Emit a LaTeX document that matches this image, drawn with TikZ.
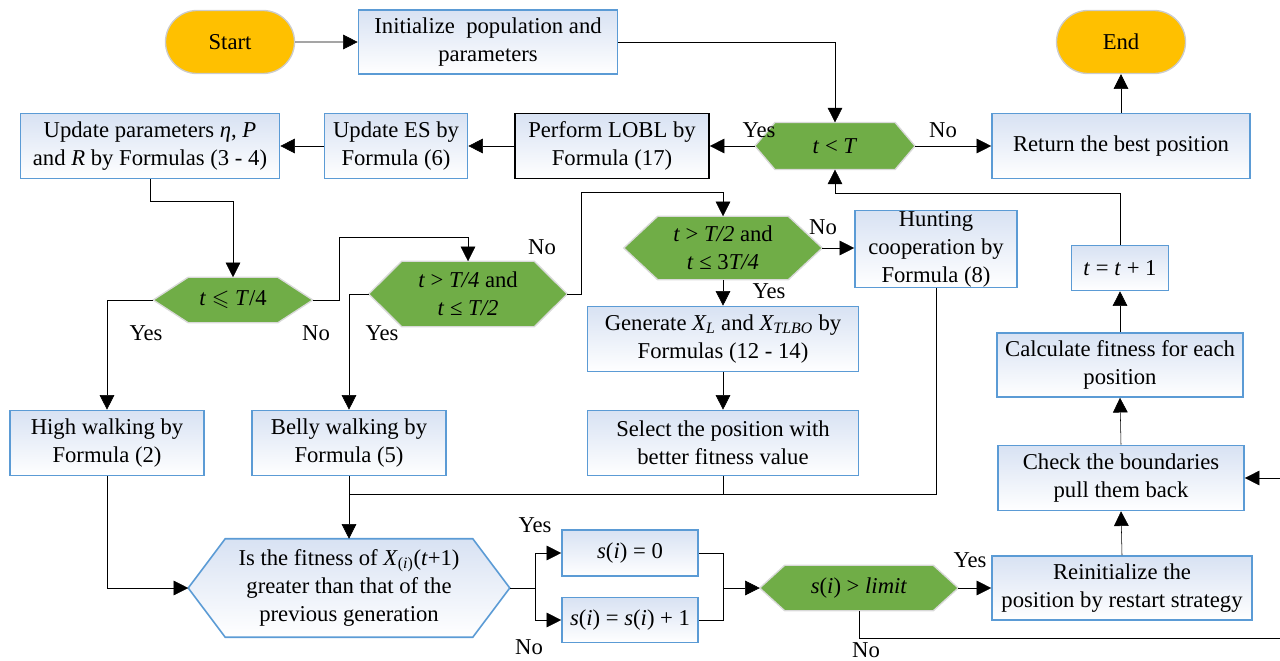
\documentclass[tikz,border=0pt]{standalone}
\usepackage{fontspec}
\setmainfont{Liberation Serif}
\usepackage{amssymb}
\usetikzlibrary{arrows.meta,calc,shapes.misc}
\pgfdeclarelayer{bg}\pgfsetlayers{bg,main}
\definecolor{boxblue}{RGB}{91,155,213}
\definecolor{boxtop}{RGB}{216,226,243}
\definecolor{hexgreen}{RGB}{112,173,71}
\definecolor{termyellow}{RGB}{255,192,0}
\newcommand\hexbg[3]{\begin{pgfonlayer}{bg}\path[#3] (#1.west) -- ($(#1.north west)+(#2,0)$) -- ($(#1.north east)+(-#2,0)$) -- (#1.east) -- ($(#1.south east)+(-#2,0)$) -- ($(#1.south west)+(#2,0)$) -- cycle;\end{pgfonlayer}}
\tikzset{
  sz/.style 2 args={minimum width=#1*0.75pt, minimum height=#2*0.75pt},
  box/.style={draw=boxblue, line width=1.2pt, top color=boxtop, bottom color=white, align=center, inner sep=0pt},
  blackbox/.style={draw=black, line width=1.2pt, top color=boxtop, bottom color=white, align=center, inner sep=0pt},
  hexn/.style={align=center, inner sep=0pt},
  greenhex/.style={fill=hexgreen, draw=black!15, line width=1pt},
  bluehex/.style={draw=boxblue, line width=1.2pt, top color=boxtop, bottom color=white},
  term/.style={rounded rectangle, fill=termyellow, draw=black!20, line width=1pt, inner sep=0pt},
  arr/.style={-{Triangle[length=11pt,width=11pt]}},
  lbl/.style={inner sep=0pt}
}
\begin{document}
\begin{tikzpicture}[x=0.75pt, y=-0.75pt, font=\fontsize{17pt}{21pt}\selectfont, line width=1.6pt]
\path[use as bounding box, clip] (0,0) rectangle (1280,660);
% terminals and top row
\node[term, sz={129}{63}] (start) at (230,42) {Start};
\node[box, sz={259}{64}] (init) at (488,42) {Initialize\ \ population and\\parameters};
\node[term, sz={129}{63}] (end) at (1121,42) {End};
\node[box, sz={258}{65}] (ret) at (1121,146) {Return the best position};
\node[hexn, sz={158}{45}] (tlt) at (835,146) {\textit{t} < \textit{T}};
\hexbg{tlt}{20}{greenhex}
\node[blackbox, sz={194}{65}] (lobl) at (612,146) {Perform LOBL by\\Formula (17)};
\node[box, sz={143}{65}] (es) at (396,146) {Update ES by\\Formula (6)};
\node[box, sz={259}{65}] (up) at (150,146) {Update parameters \textit{η}, \textit{P}\\and \textit{R} by Formulas (3 - 4)};
% decisions
\node[hexn, sz={159}{45}] (h1) at (233,300) {\textit{t} $\leqslant$ \textit{T}/4};
\hexbg{h1}{35}{greenhex}
\node[hexn, sz={198}{65}] (h2) at (468,294) {\textit{t} > \textit{T/4} and\\\textit{t} ≤ \textit{T/2}};
\hexbg{h2}{33}{greenhex}
\node[hexn, sz={198}{63}] (h3) at (723,248) {\textit{t} > \textit{T/2} and\\\textit{t} ≤ 3\textit{T/4}};
\hexbg{h3}{34}{greenhex}
\node[box, sz={162}{77}] (hunt) at (936,249) {Hunting\\cooperation by\\Formula (8)};
\node[box, sz={271}{65}] (gen) at (723,339) {Generate \textit{X\textsubscript{L}} and \textit{X\textsubscript{TLBO}} by\\Formulas (12 - 14)};
\node[box, sz={271}{65}] (sel) at (723,443) {Select the position with\\better fitness value};
\node[box, sz={194}{65}] (high) at (107,443) {High walking by\\Formula (2)};
\node[box, sz={194}{65}] (belly) at (349,443) {Belly walking by\\Formula (5)};
\node[hexn, sz={321}{98}] (fit) at (349,588) {Is the fitness of \textit{X}\textsubscript{(\textit{i})}(\textit{t}+1)\\greater than that of the\\previous generation};
\hexbg{fit}{37}{bluehex}
\node[box, sz={136}{46}] (s0) at (630,553) {\textit{s}(\textit{i}) = 0};
\node[box, sz={136}{45}] (s1) at (630,620) {\textit{s}(\textit{i}) = \textit{s}(\textit{i}) + 1};
\node[hexn, sz={198}{45}] (lim) at (859,588) {\textit{s}(\textit{i}) > \textit{limit}};
\hexbg{lim}{25}{greenhex}
\node[box, sz={260}{64}] (rein) at (1122,588) {Reinitialize the\\position by restart strategy};
\node[box, sz={246}{65}] (chk) at (1121,478) {Check the boundaries\\pull them back};
\node[box, sz={246}{64}] (calc) at (1120,365) {Calculate fitness for each\\position};
\node[box, sz={97}{45}] (tinc) at (1120,268) {\textit{t} = \textit{t} + 1};
% connectors
\draw[arr] (start) -- (init);
\draw[arr] (init.east) -| (tlt.north);
\draw[arr] (tlt.west) -- (lobl.east);
\draw[arr] (lobl.west) -- (es.east);
\draw[arr] (es.west) -- (up.east);
\draw[arr] (tlt.east) -- (ret.west);
\draw[arr] (ret.north) -- (end.south);
\draw[arr] (up.south) |- ($(h1.north)+(0,-76)$) -- (h1.north);
\draw[arr] (h1.west) -| (high.north);
\draw[arr] (h1.east) -- ++(26,0) |- ($(h2.north)+(0,-24)$) -- (h2.north);
\draw[arr] (h2.west) -| (belly.north);
\draw[arr] (h2.east) -- ++(14,0) |- ($(h3.north)+(0,-24)$) -- (h3.north);
\draw[arr] (h3.east) -- (h3.east -| hunt.west);
\draw[arr] (h3.south) -- (gen.north);
\draw[arr] (gen.south) -- (sel.north);
\coordinate (j) at ($(belly.south)+(0,18)$);
\draw (hunt.south) |- (j);
\draw (sel.south) -- (sel.south |- j);
\draw[arr] (belly.south) -- (fit.north);
\draw[arr] (high.south) |- (fit.west);
\coordinate (fb) at ($(fit.east)+(25,0)$);
\draw (fit.east) -- (fb);
\draw[arr] (fb) |- (s0.west);
\draw[arr] (fb) |- (s1.west);
\coordinate (jx) at ($(s0.east)+(24,0)$);
\draw (s0.east) -- (jx) |- (s1.east);
\draw[arr] (jx |- lim.west) -- (lim.west);
\draw[arr] (lim.east) -- (lim.east -| rein.west);
\draw[arr] (lim.south) |- ($(rein.south east)+(60,17)$) |- (chk.east);
\draw[arr] (rein.north) -- (chk.south);
\draw[arr] (chk.north) -- (calc.south);
\draw[arr] (calc.north) -- (tinc.south);
\draw[arr] (tinc.north) |- ($(tlt.south)+(0,24)$) -- (tlt.south);
% labels
\node[lbl] (l1) at (759,130) {Yes};
\node[lbl] (l2) at (943,130) {No};
\node[lbl] (l3) at (146,333) {Yes};
\node[lbl] (l4) at (316,333) {No};
\node[lbl] (l5) at (382,333) {Yes};
\node[lbl] (l6) at (542,247) {No};
\node[lbl] (l7) at (823,227) {No};
\node[lbl] (l8) at (769,291) {Yes};
\node[lbl] (l9) at (535,525) {Yes};
\node[lbl] (l10) at (529,647) {No};
\node[lbl] (l11) at (970,560) {Yes};
\node[lbl] (l12) at (866,650) {No};
\end{tikzpicture}
\end{document}
